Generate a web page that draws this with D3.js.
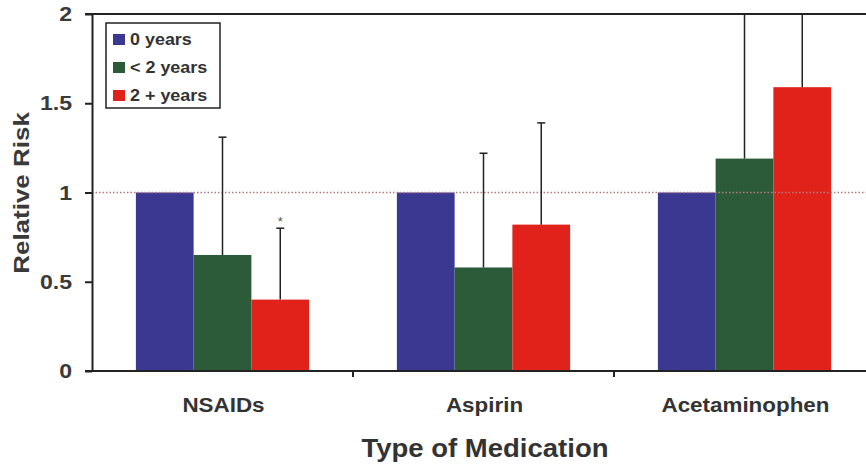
<!DOCTYPE html>
<html><head><meta charset="utf-8">
<script src="https://cdn.jsdelivr.net/npm/d3@7"></script>
<style>body{margin:0;background:#fff}svg{display:block}</style>
</head><body>
<svg id="c" width="866" height="465"></svg>
<script>
const categories = ["NSAIDs", "Aspirin", "Acetaminophen"];
const seriesNames = ["0 years", "< 2 years", "2 + years"];
const seriesColors = ["#3b3892", "#2b5b38", "#e1221b"];
const values0 = [1, 1, 1];
const valuesLt2 = [0.65, 0.58, 1.19];
const values2plus = [0.40, 0.82, 1.59];
const upperLt2 = [1.31, 1.22, 2.3];
const upper2plus = [0.80, 1.39, 2.3];
const yTicks = [0, 0.5, 1, 1.5, 2];
const yTickLabels = ["0", "0.5", "1", "1.5", "2"];

(function () {
const svg = d3.select("#c");
const pLeft = 92, pTop = 14, pBottom = 371, pRight = 875;
const font = "'Liberation Sans', Arial, sans-serif";
const widen = (sel, f) => sel.each(function () {
  const w = this.getComputedTextLength();
  d3.select(this).attr("textLength", w * f).attr("lengthAdjust", "spacingAndGlyphs");
});

const x = d3.scaleBand().domain(categories).range([pLeft, pRight]).paddingInner(0).paddingOuter(0);
const xs = d3.scaleBand().domain(seriesNames).range([0, x.bandwidth()]).paddingInner(0).paddingOuter(0.76);
const y = d3.scaleLinear().domain([0, 2]).range([pBottom, pTop]);

const seriesVals = [values0, valuesLt2, values2plus];
const seriesUpper = [null, upperLt2, upper2plus];

const data = [];
categories.forEach((c, i) => seriesNames.forEach((s, j) => data.push({c, s, j, v: seriesVals[j][i], u: seriesUpper[j] ? seriesUpper[j][i] : null})));

svg.append("defs").append("clipPath").attr("id", "pc")
  .append("rect").attr("x", pLeft).attr("y", pTop).attr("width", pRight - pLeft).attr("height", pBottom - pTop);

// bars
svg.append("g").selectAll("rect").data(data).join("rect")
  .attr("x", d => x(d.c) + xs(d.s))
  .attr("y", d => y(d.v))
  .attr("width", xs.bandwidth())
  .attr("height", d => y(0) - y(d.v))
  .attr("fill", d => seriesColors[d.j]);

// reference line at 1
svg.append("line").attr("x1", pLeft).attr("x2", pRight).attr("y1", y(1)).attr("y2", y(1))
  .attr("stroke", "#b87a80").attr("stroke-width", 1.3).attr("stroke-dasharray", "1.5,2");

// error bars
const eb = svg.append("g").attr("clip-path", "url(#pc)");
data.filter(d => d.u != null).forEach(d => {
  const cx = x(d.c) + xs(d.s) + xs.bandwidth() / 2;
  eb.append("line").attr("x1", cx).attr("x2", cx).attr("y1", y(d.v)).attr("y2", y(d.u))
    .attr("stroke", "#222").attr("stroke-width", 1.5);
  eb.append("line").attr("x1", cx - 4).attr("x2", cx + 4).attr("y1", y(d.u)).attr("y2", y(d.u))
    .attr("stroke", "#222").attr("stroke-width", 1.5);
});

// asterisk
const ast = data.find(d => d.c === "NSAIDs" && d.j === 2);
svg.append("text").attr("x", x(ast.c) + xs(ast.s) + xs.bandwidth() / 2).attr("y", y(ast.u) - 2)
  .attr("text-anchor", "middle").attr("font-family", font).attr("font-size", 13).attr("fill", "#555").text("*");

// y axis
const yAxis = d3.axisLeft(y).tickValues(yTicks).tickFormat((d, i) => yTickLabels[i]).tickSize(7).tickSizeOuter(0);
const gy = svg.append("g").attr("transform", `translate(${pLeft},0)`).call(yAxis);
gy.select(".domain").attr("stroke", "#222").attr("stroke-width", 2);
gy.selectAll(".tick line").attr("stroke", "#222").attr("stroke-width", 2);
gy.selectAll(".tick text").attr("font-family", font).attr("font-size", 21).attr("font-weight", "bold")
  .attr("fill", "#3a3a3a").attr("x", -20);
widen(gy.selectAll(".tick text"), 1.1);

// top border
svg.append("line").attr("x1", pLeft - 7).attr("x2", pRight).attr("y1", pTop).attr("y2", pTop)
  .attr("stroke", "#222").attr("stroke-width", 2);

// x axis
const gx = svg.append("g").attr("transform", `translate(0,${pBottom})`);
gx.append("line").attr("x1", pLeft - 7).attr("x2", pRight).attr("y1", 0).attr("y2", 0).attr("stroke", "#222").attr("stroke-width", 2);
gx.selectAll(".sep").data(categories.slice(1)).join("line")
  .attr("x1", d => x(d)).attr("x2", d => x(d)).attr("y1", 0).attr("y2", 6)
  .attr("stroke", "#222").attr("stroke-width", 2);
const cl = gx.selectAll(".lab").data(categories).join("text")
  .attr("x", d => x(d) + x.bandwidth() / 2 + 1).attr("y", 41)
  .attr("text-anchor", "middle").attr("font-family", font).attr("font-size", 20).attr("font-weight", "bold")
  .attr("fill", "#333").text(d => d);
widen(cl, 1.12);

// axis titles
const xt = svg.append("text").attr("x", 485).attr("y", 457).attr("text-anchor", "middle")
  .attr("font-family", font).attr("font-size", 25).attr("font-weight", "bold").attr("fill", "#333").text("Type of Medication");
widen(xt, 1.1);
const yt = svg.append("text").attr("transform", "translate(29,193) rotate(-90)").attr("text-anchor", "middle")
  .attr("font-family", font).attr("font-size", 22).attr("font-weight", "bold").attr("fill", "#3a3a3a").text("Relative Risk");
widen(yt, 1.18);

// legend
const lg = svg.append("g");
lg.append("rect").attr("x", 106).attr("y", 23).attr("width", 114).attr("height", 85)
  .attr("fill", "#fff").attr("stroke", "#222").attr("stroke-width", 1.5);
seriesNames.forEach((s, i) => {
  const cy = 39 + i * 28;
  lg.append("rect").attr("x", 113).attr("y", cy - 5).attr("width", 12).attr("height", 11).attr("fill", seriesColors[i]);
  const t = lg.append("text").attr("x", 130).attr("y", cy + 6).attr("font-family", font).attr("font-size", 16)
    .attr("font-weight", "bold").attr("fill", "#333").text(s);
  widen(t, 1.12);
});
})();
</script>
</body></html>
